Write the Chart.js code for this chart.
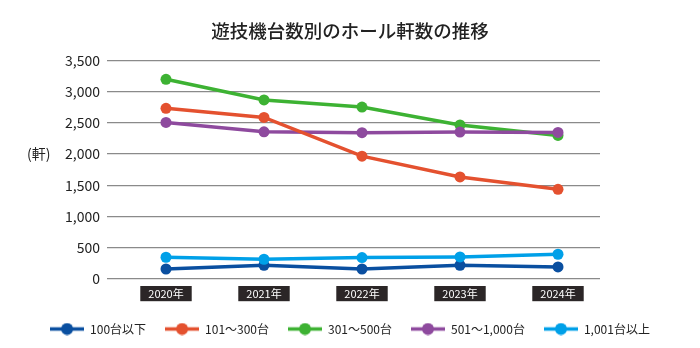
<!DOCTYPE html>
<html>
<head>
<meta charset="utf-8">
<script src="https://cdn.jsdelivr.net/npm/chart.js@4.4.1/dist/chart.umd.min.js"></script>
<style>
html,body{margin:0;padding:0;background:#fff;}
#wrap{width:700px;height:348px;position:relative;}
</style>
</head>
<body>
<div id="wrap"><canvas id="c" width="700" height="348"></canvas></div>
<script>
const years = [2020, 2021, 2022, 2023, 2024];
const yearLabels = ['2020年', '2021年', '2022年', '2023年', '2024年'];
const seriesNames = ['100台以下', '101～300台', '301～500台', '501～1,000台', '1,001台以上'];
const under100 = [160, 220, 160, 220, 193];
const from101to300 = [2730, 2585, 1965, 1632, 1434];
const from301to500 = [3195, 2865, 2750, 2465, 2296];
const from501to1000 = [2505, 2355, 2340, 2350, 2344];
const over1001 = [348, 316, 342, 353, 396];
const yTicks = [0, 500, 1000, 1500, 2000, 2500, 3000, 3500];
const colors = ['#0a4fa0', '#e4512f', '#3db233', '#8e4a9e', '#00a0e8'];
const drawOrder = [5, 1, 4, 2, 3];
const allSeries = [under100, from101to300, from301to500, from501to1000, over1001];

const FONT = "'Noto Sans CJK JP', 'Noto Sans', sans-serif";

function legendIcon(color) {
  const cv = document.createElement('canvas');
  cv.width = 34; cv.height = 13;
  const g = cv.getContext('2d');
  g.strokeStyle = color; g.lineWidth = 3.5;
  g.beginPath(); g.moveTo(0, 6.5); g.lineTo(34, 6.5); g.stroke();
  g.fillStyle = color;
  g.beginPath(); g.arc(17, 6.5, 6, 0, Math.PI * 2); g.fill();
  return cv;
}
const icons = colors.map(legendIcon);

const datasets = allSeries.map((vals, i) => ({
  label: seriesNames[i],
  data: vals.map((v, j) => ({x: years[j], y: v})),
  borderColor: colors[i],
  backgroundColor: colors[i],
  pointBackgroundColor: colors[i],
  pointBorderWidth: 0,
  pointRadius: 5.5,
  borderWidth: 3.5,
  tension: 0,
  order: drawOrder[i]
}));

const unitLabel = {
  id: 'unitLabel',
  afterDraw(chart) {
    const ctx = chart.ctx;
    const y = chart.scales.y.getPixelForValue(2000);
    ctx.save();
    ctx.font = '14px ' + FONT;
    ctx.fillStyle = '#222';
    ctx.textAlign = 'left';
    ctx.textBaseline = 'middle';
    ctx.fillText('(軒)', 27, y);
    ctx.restore();
  }
};

new Chart(document.getElementById('c'), {
  type: 'line',
  data: { datasets },
  plugins: [unitLabel],
  options: {
    responsive: false,
    animation: false,
    layout: { padding: { top: 0, left: 0, right: 0, bottom: 3 } },
    plugins: {
      tooltip: { enabled: false },
      title: {
        display: true,
        text: '遊技機台数別のホール軒数の推移',
        color: '#222',
        font: { family: FONT, size: 18.5, weight: '500' },
        padding: { top: 20, bottom: 18 }
      },
      legend: {
        position: 'bottom',
        labels: {
          usePointStyle: true,
          pointStyleWidth: 34,
          boxHeight: 12,
          padding: 19,
          color: '#222',
          font: { family: FONT, size: 12 },
          generateLabels(chart) {
            const items = Chart.defaults.plugins.legend.labels.generateLabels(chart);
            items.sort((a, b) => a.datasetIndex - b.datasetIndex);
            items.forEach(it => { it.pointStyle = icons[it.datasetIndex]; it.lineWidth = 0; });
            return items;
          }
        }
      }
    },
    scales: {
      x: {
        type: 'linear',
        min: 2020 - 59 / 98,
        max: 2024 + 42 / 98,
        grid: { display: false, drawTicks: false },
        border: { display: false },
        afterBuildTicks(scale) { scale.ticks = years.map(v => ({ value: v })); },
        afterFit(scale) { scale.height = 25; },
        ticks: {
          padding: 8,
          color: '#fff',
          font: { family: FONT, size: 11 },
          showLabelBackdrop: true,
          backdropColor: '#2b2627',
          backdropPadding: { left: 8, right: 8, top: 1, bottom: 1 },
          callback(v) { return yearLabels[years.indexOf(v)]; }
        }
      },
      y: {
        min: 0,
        max: 3500,
        afterBuildTicks(scale) { scale.ticks = yTicks.map(v => ({ value: v })); },
        afterFit(scale) { scale.width = 107; },
        grid: { color: '#8a8a8a', lineWidth: 1.2, drawTicks: false },
        border: { display: false },
        ticks: {
          padding: 7,
          color: '#222',
          font: { family: FONT, size: 14 },
          callback(v) { return v.toLocaleString('en-US'); }
        }
      },
      y2: {
        position: 'right',
        grid: { display: false },
        border: { display: false },
        ticks: { display: false },
        afterFit(scale) { scale.width = 100; }
      }
    }
  }
});
</script>
</body>
</html>
